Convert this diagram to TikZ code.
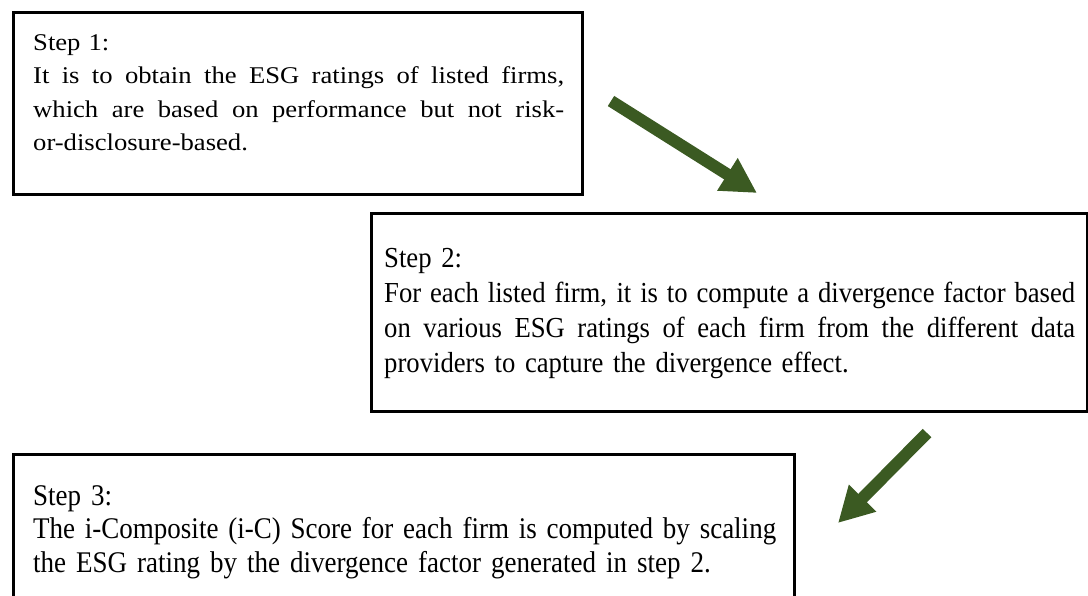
\documentclass[tikz,border=0pt]{standalone}
\usepackage{fontspec}
\setmainfont{Liberation Serif}
\newfontfamily\wideserif[FakeStretch=1.11]{Liberation Serif}
\newfontfamily\narrowserif[FakeStretch=0.92]{Liberation Serif}
\newfontfamily\narrowerserif[FakeStretch=0.90]{Liberation Serif}
\usetikzlibrary{arrows.meta}
\definecolor{arrowgreen}{HTML}{3B5A22}
\tikzset{
  stepframe/.style={draw=black, line width=2.5pt, rectangle, inner sep=0pt, anchor=north west},
  steptext/.style={anchor=base west, inner sep=0pt, align=left},
  bigarrow/.style={draw=arrowgreen, line width=12pt,
    -{Triangle[length=35pt,width=36pt,fill=arrowgreen]}},
}
% a justified line of the given width (word spaces free to stretch)
\newcommand{\fullline}[2]{\makebox[#1][s]{\spaceskip=0pt\xspaceskip=0pt #2}}
\begin{document}
\begin{tikzpicture}[x=1pt,y=-1pt]
\useasboundingbox (0,0) rectangle (1088,595);
\clip (0,0) rectangle (1088,595);
% frames
\node[stepframe, minimum width=569pt, minimum height=182pt] (box1) at (12,11) {};
\node[stepframe, minimum width=716pt, minimum height=198pt] (box2) at (370,212) {};
\node[stepframe, minimum width=781pt, minimum height=160pt] (box3) at (12,453) {};
% texts
\node[steptext, text width=531pt, font=\wideserif\fontsize{24}{33.5}\selectfont] (t1) at (33,50) {%
Step 1:\\
\fullline{531pt}{It is to obtain the ESG ratings of listed firms,}\\
\fullline{531pt}{which are based on performance but not risk-}\\
or-disclosure-based.};
\node[steptext, text width=691pt, font=\narrowserif\fontsize{29}{35}\selectfont] (t2) at (384,267) {%
Step 2:\\
\fullline{691pt}{For each listed firm, it is to compute a divergence factor based}\\
\fullline{691pt}{on various ESG ratings of each firm from the different data}\\
providers to capture the divergence effect.};
\node[steptext, text width=743pt, font=\narrowerserif\fontsize{30}{33.5}\selectfont] (t3) at (33,505) {%
Step 3:\\
\fullline{743pt}{The i-Composite (i-C) Score for each firm is computed by scaling}\\
the ESG rating by the divergence factor generated in step 2.};
% arrows between the steps
\coordinate (a1s) at (611,101);
\coordinate (a1e) at (757,193);
\coordinate (a2s) at (927,433);
\coordinate (a2e) at (838,523);
\draw[bigarrow] (a1s) -- (a1e);
\draw[bigarrow] (a2s) -- (a2e);
\end{tikzpicture}
\end{document}
